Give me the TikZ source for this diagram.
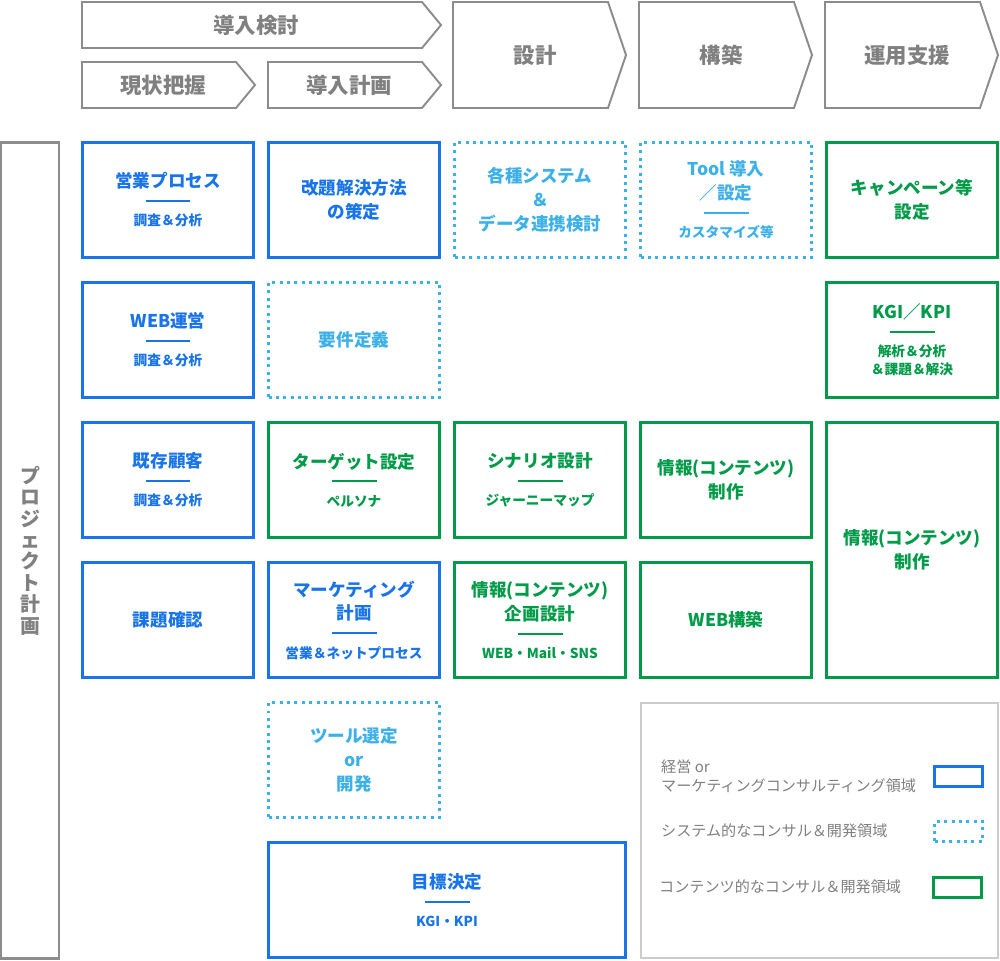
\documentclass[tikz,border=0pt]{standalone}
\usepackage{fontspec}
\setmainfont{Noto Sans CJK JP}
\usetikzlibrary{positioning,calc}

\definecolor{mblue}{RGB}{24,116,232}
\definecolor{mcyan}{RGB}{60,176,232}
\definecolor{mgreen}{RGB}{0,155,72}
\definecolor{pgray}{RGB}{140,140,140}
\definecolor{tgray}{RGB}{128,128,128}
\definecolor{lgray}{RGB}{204,204,204}

\newcommand{\cellrule}{\rule{0.9cm}{1.1pt}}
\newcommand{\cellsub}{\fontsize{7.8}{10.2}\selectfont}

\begin{document}
\begin{tikzpicture}[x=0.02cm,y=-0.02cm]
\tikzset{cell/.style={draw, line width=1.7pt, minimum width=3.42cm, minimum height=2.30cm, inner sep=0pt, align=center, font=\fontsize{10}{13.6}\selectfont\bfseries},
   mkt/.style={cell, draw=mblue, text=mblue},
   sys/.style={cell, draw=mcyan, text=mcyan, dash pattern=on 1.7pt off 2.5pt},
   cnt/.style={cell, draw=mgreen, text=mgreen},
   phase/.style={draw=pgray, line width=1.1pt, line join=miter},
   ptxt/.style={text=tgray, font=\fontsize{12.2}{13}\selectfont\bfseries},
   key/.style={draw, line width=1.7pt, minimum width=0.96cm, minimum height=0.40cm, inner sep=0pt},
   ktxt/.style={anchor=west, align=left, text=tgray, font=\fontsize{8.6}{10.8}\selectfont}};
   \fill[white] (0,0) rectangle (1000,960);
   \useasboundingbox (0,0) rectangle (1000,960);

   % phases
   \draw[phase] (82,2) -- (422,2) -- (441,25) -- (422,48) -- (82,48) -- cycle;
   \draw[phase] (82,62) -- (236,62) -- (255,85) -- (236,108) -- (82,108) -- cycle;
   \draw[phase] (268,62) -- (422,62) -- (441,85) -- (422,108) -- (268,108) -- cycle;
   \draw[phase] (453,2) -- (608,2) -- (626,55) -- (608,108) -- (453,108) -- cycle;
   \draw[phase] (639,2) -- (794,2) -- (812,55) -- (794,108) -- (639,108) -- cycle;
   \draw[phase] (825,2) -- (980,2) -- (998,55) -- (980,108) -- (825,108) -- cycle;
   \node[ptxt] at (256,25) (Study) {導入検討};
   \node[ptxt] at (163,85) (Survey) {現状把握};
   \node[ptxt] at (349,85) (Plan) {導入計画};
   \node[ptxt] at (535,55) (Design) {設計};
   \node[ptxt] at (721,55) (Build) {構築};
   \node[ptxt] at (907,55) (Ops) {運用支援};

   \node[draw=pgray, line width=1.4pt, minimum width=1.15cm, minimum height=16.33cm, align=center, text=tgray, font=\fontsize{11.3}{12.2}\selectfont\bfseries] at (30,550.5) (Proj) {プ\\ロ\\ジ\\ェ\\ク\\ト\\計\\画};

   % row 1
   \node[mkt] at (168,200) (SalesProc) {営業プロセス\\[-5.5pt]\cellrule\\[0pt]{\cellsub 調査＆分析}};
   \node[mkt] at (354,200) (Solution) {改題解決方法\\の策定};
   \node[sys] at (540,200) (SysLink) {各種システム\\＆\\データ連携検討};
   \node[sys] at (726,200) (ToolSetup) {Tool 導入\\／設定\\[-5.5pt]\cellrule\\[0pt]{\cellsub カスタマイズ等}};
   \node[cnt] at (912,200) (Campaign) {キャンペーン等\\設定};
   % row 2
   \node[mkt] at (168,340) (WebOps) {WEB運営\\[-5.5pt]\cellrule\\[0pt]{\cellsub 調査＆分析}};
   \node[sys] at (354,340) (Reqs) {要件定義};
   \node[cnt] at (912,340) (KgiKpi) {KGI／KPI\\[-5.5pt]\cellrule\\[0pt]{\cellsub 解析＆分析}\\[-3.4pt]{\cellsub ＆課題＆解決}};
   % row 3
   \node[mkt] at (168,480) (Customers) {既存顧客\\[-5.5pt]\cellrule\\[0pt]{\cellsub 調査＆分析}};
   \node[cnt] at (354,480) (Target) {ターゲット設定\\[-5.5pt]\cellrule\\[0pt]{\cellsub ペルソナ}};
   \node[cnt] at (540,480) (Scenario) {シナリオ設計\\[-5.5pt]\cellrule\\[0pt]{\cellsub ジャーニーマップ}};
   \node[cnt] at (726,480) (Content) {情報(コンテンツ)\\制作};
   \node[cnt, minimum height=5.10cm] at (912,550) (ContentOps) {情報(コンテンツ)\\制作};
   % row 4
   \node[mkt] at (168,620) (Issues) {課題確認};
   \node[mkt] at (354,620) (MktPlan) {マーケティング\\計画\\[-5.5pt]\cellrule\\[0pt]{\cellsub 営業＆ネットプロセス}};
   \node[cnt] at (540,620) (ContentPlan) {情報(コンテンツ)\\企画設計\\[-5.5pt]\cellrule\\[0pt]{\cellsub WEB・Mail・SNS}};
   \node[cnt] at (726,620) (WebBuild) {WEB構築};
   % rows 5, 6
   \node[sys] at (354,760) (ToolSel) {ツール選定\\or\\開発};
   \node[mkt, minimum width=7.14cm] at (447,900) (Goal) {目標決定\\[-5.5pt]\cellrule\\[0pt]{\cellsub KGI・KPI}};

   % legend
   \node[draw=lgray, line width=0.85pt, minimum width=7.15cm, minimum height=5.11cm] at (819.5,830.5) (Legend) {};
   \node[key, draw=mblue] at (958.5,776.5) (KeyMkt) {};
   \node[key, draw=mcyan, dash pattern=on 1.7pt off 2.5pt] at (958.5,831.5) (KeySys) {};
   \node[key, draw=mgreen] at (957.5,887.5) (KeyCnt) {};
   \node[ktxt] at (655,776.5) (TxtMkt) {経営 or\\マーケティングコンサルティング領域};
   \node[ktxt] at (655,831) (TxtSys) {システム的なコンサル＆開発領域};
   \node[ktxt] at (653,887) (TxtCnt) {コンテンツ的なコンサル＆開発領域};

\end{tikzpicture}
\end{document}
